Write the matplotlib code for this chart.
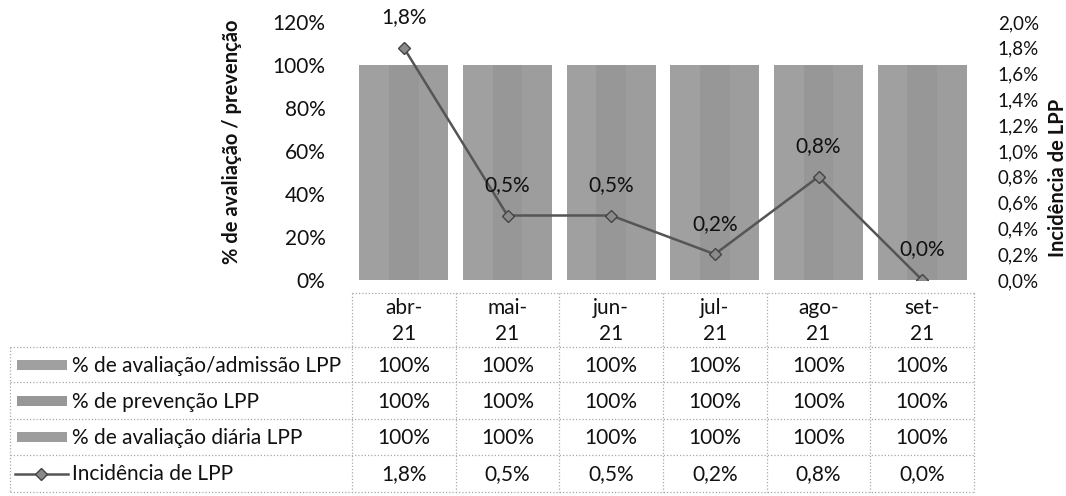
import matplotlib
matplotlib.use("Agg")
import matplotlib.pyplot as plt
from matplotlib.patches import Rectangle
from matplotlib.lines import Line2D
import numpy as np

plt.rcParams['font.family'] = ['Lato', 'DejaVu Sans']

# ---- data ----
months = ["abr-\n21", "mai-\n21", "jun-\n21", "jul-\n21", "ago-\n21", "set-\n21"]
series_names = ["% de avaliação/admissão LPP", "% de prevenção LPP", "% de avaliação diária LPP"]
aval_admissao = [100, 100, 100, 100, 100, 100]
prevencao = [100, 100, 100, 100, 100, 100]
aval_diaria = [100, 100, 100, 100, 100, 100]
incidencia = [1.8, 0.5, 0.5, 0.2, 0.8, 0.0]
line_name = "Incidência de LPP"
left_ticks = [0, 20, 40, 60, 80, 100, 120]
right_ticks = [0.0, 0.2, 0.4, 0.6, 0.8, 1.0, 1.2, 1.4, 1.6, 1.8, 2.0]

bar_series = [aval_admissao, prevencao, aval_diaria]
bar_colors = ["#a0a0a0", "#979797", "#9d9d9d"]
line_color = "#555555"
txt_color = "#111111"
FS = 15

W, H = 1066, 496
fig = plt.figure(figsize=(W / 100, H / 100), dpi=100)


def fx(x):
    return x / W


def fy(y):
    return 1 - y / H


# plot area in pixel coordinates (top-left origin)
pl, pr, pt, pb = 352, 974, 22, 280
ax = fig.add_axes([fx(pl), fy(pb), fx(pr) - fx(pl), fy(pt) - fy(pb)])
ax2 = ax.twinx()

x = np.arange(len(months))
bw = 0.287
for i, (vals, col) in enumerate(zip(bar_series, bar_colors)):
    ax.bar(x + (i - 1) * bw, vals, width=bw, color=col, edgecolor="none", zorder=2)

ax.set_xlim(-0.5, len(months) - 0.5)
ax.set_ylim(0, 120)
ax.set_yticks(left_ticks)
ax.set_yticklabels([f"{v}%" for v in left_ticks])
ax.set_xticks([])
ax.tick_params(axis="y", length=0, pad=19, labelsize=FS, colors=txt_color)

ax2.plot(x, incidencia, color=line_color, lw=1.8, marker="D", ms=6,
         mfc="#8a8a8a", mec="#444444", mew=1.0, zorder=3)
ax2.set_ylim(0, 2.0)
ax2.set_yticks(right_ticks)
ax2.set_yticklabels([f"{v:.1f}%".replace(".", ",") for v in right_ticks])
ax2.tick_params(axis="y", length=0, pad=17, labelsize=13.5, colors=txt_color)

for a in (ax, ax2):
    for s in a.spines.values():
        s.set_visible(False)

for xi, v in zip(x, incidencia):
    ax2.annotate(f"{v:.1f}%".replace(".", ","), (xi, v), xytext=(0, 22),
                 textcoords="offset points", ha="center", va="center",
                 fontsize=FS, color=txt_color, zorder=4)

fig.text(fx(232), fy(142), "% de avaliação / prevenção", rotation=90,
         ha="center", va="center", fontsize=14.5, fontweight="bold", color=txt_color)
fig.text(fx(1058), fy(178), "Incidência de LPP", rotation=90,
         ha="center", va="center", fontsize=14.5, fontweight="bold", color=txt_color)

# ---- data table below the plot ----
fig.canvas.draw()


def col_px(k):
    # pixel x of the boundary left of category k
    return ax.transData.transform((k - 0.5, 0))[0]


col_edges = [col_px(k) for k in range(len(months) + 1)]
label_left = 10
header_top, header_bot = 293, 347
row_edges = [347, 382, 419, 455, 492]

line_kw = dict(color="#a8a8a8", lw=0.9, linestyle=(0, (1, 1.6)))


def hline(x0, x1, y):
    fig.add_artist(Line2D([fx(x0), fx(x1)], [fy(y), fy(y)], **line_kw))


def vline(x0, y0, y1):
    fig.add_artist(Line2D([fx(x0), fx(x0)], [fy(y0), fy(y1)], **line_kw))


hline(col_edges[0], col_edges[-1], header_top)
for y in row_edges:
    hline(label_left, col_edges[-1], y)
vline(label_left, row_edges[0], row_edges[-1])
for xe in col_edges:
    vline(xe, header_top, row_edges[-1])

# month headers
for k, m in enumerate(months):
    cx = (col_edges[k] + col_edges[k + 1]) / 2
    fig.text(fx(cx), fy((header_top + header_bot) / 2 + 1), m, ha="center", va="center",
             fontsize=FS, color=txt_color, linespacing=1.35)

# table rows
row_values = [
    [f"{v}%" for v in aval_admissao],
    [f"{v}%" for v in prevencao],
    [f"{v}%" for v in aval_diaria],
    [f"{v:.1f}%".replace(".", ",") for v in incidencia],
]
row_labels = series_names + [line_name]
for r in range(4):
    cy = (row_edges[r] + row_edges[r + 1]) / 2
    for k, txt in enumerate(row_values[r]):
        cx = (col_edges[k] + col_edges[k + 1]) / 2
        fig.text(fx(cx), fy(cy + 1), txt, ha="center", va="center",
                 fontsize=FS, color=txt_color)
    fig.text(fx(72), fy(cy + 1), row_labels[r], ha="left", va="center",
             fontsize=FS, color=txt_color)
    if r < 3:
        fig.add_artist(Rectangle((fx(17), fy(cy + 5)), fx(67) - fx(17), fy(cy - 5) - fy(cy + 5),
                                 facecolor=bar_colors[r], edgecolor="none"))
    else:
        fig.add_artist(Line2D([fx(15), fx(68)], [fy(cy), fy(cy)], color=line_color, lw=1.8))
        fig.add_artist(Line2D([fx(41)], [fy(cy)], marker="D", ms=6, mfc="#8a8a8a",
                              mec="#444444", mew=1.0, lw=0))

fig.savefig("out.png", dpi=100, facecolor="white")
